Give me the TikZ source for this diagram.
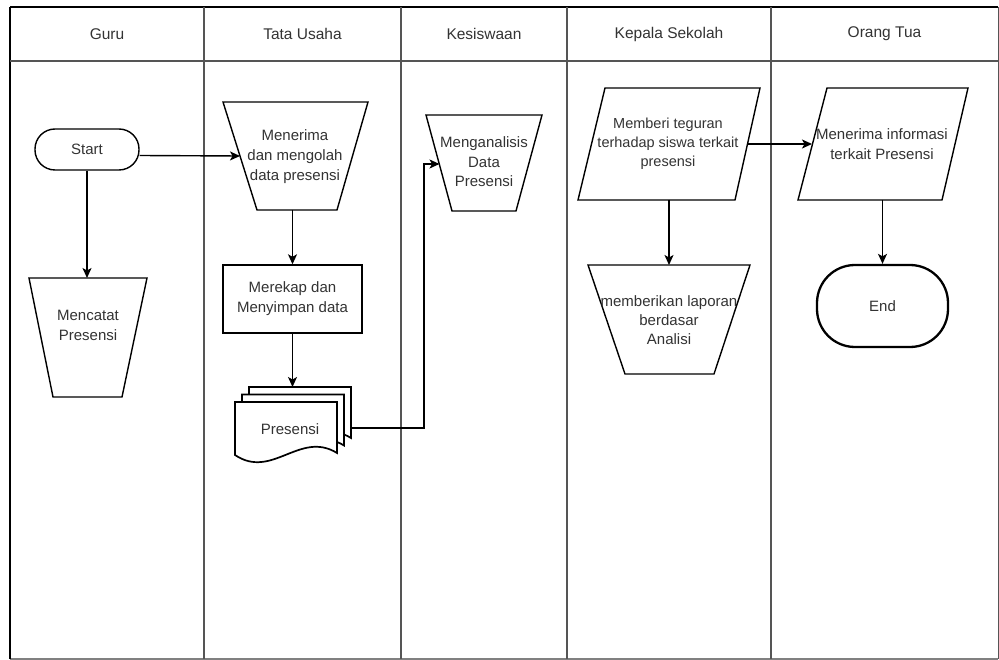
\documentclass[tikz,border=0pt]{standalone}
\usepackage{fontspec}
\setmainfont{Liberation Sans}
\usetikzlibrary{arrows.meta,calc}
\definecolor{txt}{HTML}{333333}
\definecolor{lane}{HTML}{555555}
\begin{document}
\begin{tikzpicture}[x=1pt,y=-1pt,
  shp/.style={draw=black, line width=1.4pt, fill=white},
  lbl/.style={text=txt, font=\fontsize{15}{20}\selectfont, align=center, inner sep=0pt},
  hdr/.style={text=txt, font=\fontsize{15.5}{18}\selectfont, inner sep=0pt},
  conn/.style={draw=black, line width=1.4pt, -{Stealth[length=10pt,width=9pt,inset=2.5pt]}},
  docpg/.style={draw=black, line width=1.7pt, fill=white},
]
\useasboundingbox (0,0) rectangle (999,660);
\fill[white] (0,0) rectangle (999,660);

% frame and lanes
\draw[black, line width=1.5pt] (10,7) -- (998,7);
\draw[gray, line width=1.2pt] (10,659) -- (998,659);
\draw[black, line width=2pt] (10,7) -- (10,659);
\draw[lane, line width=1pt] (998,7) -- (998,659);
\draw[lane, line width=1.5pt] (10,61) -- (998,61);
\foreach \xx in {204,401,567,771} \draw[lane, line width=1.5pt] (\xx,7) -- (\xx,659);

% headers
\node[hdr] (h1) at (107,34) {Guru};
\node[hdr] (h2) at (302.5,34) {Tata Usaha};
\node[hdr] (h3) at (484,34) {Kesiswaan};
\node[hdr] (h4) at (669,34) {Kepala Sekolah};
\node[hdr] (h5) at (884.5,34) {Orang Tua};

% Guru lane
\node[lbl, draw=black, line width=1.4pt, rounded corners=20pt, minimum width=104pt, minimum height=41pt] (start) at (87,149.5) {Start};
\draw[shp] (29,278) -- (147,278) -- (122,397) -- (53,397) -- cycle;
\node[lbl] (mencatat) at (88,325) {Mencatat\\Presensi};
\coordinate (mencatatT) at (87,278);

% Tata Usaha lane
\draw[shp] (223,102) -- (368,102) -- (337,210) -- (257,210) -- cycle;
\node[lbl] (menerima) at (295,157) {Menerima\\dan mengolah\\data presensi};
\coordinate (menerimaL) at (240,156);
\coordinate (menerimaB) at (292.5,210);

\node[lbl, draw=black, line width=1.4pt, minimum width=139pt, minimum height=68pt] (merekap) at (292.5,299) {Merekap dan\\Menyimpan data};

\foreach \ox/\oy in {249/387, 242/394.5, 235/402}
  \draw[docpg] (\ox,\oy) -- (\ox+102,\oy) -- (\ox+102,\oy+51)
     .. controls (\ox+65,\oy+28) and (\ox+37,\oy+78) .. (\ox,\oy+53) -- cycle;
\node[lbl] (presensi) at (290,429) {Presensi};
\coordinate (docT) at (292.5,387);
\coordinate (docR) at (351,428);

% Kesiswaan lane
\draw[shp] (426,115) -- (542,115) -- (516,211) -- (452,211) -- cycle;
\node[lbl, font=\fontsize{15}{19.5}\selectfont] (analisis) at (484,162) {Menganalisis\\Data\\Presensi};
\coordinate (analisL) at (439.5,164);
\coordinate (bendc) at (424,164);

% Kepala Sekolah lane
\draw[shp] (605,88) -- (760,88) -- (735,200) -- (578,200) -- cycle;
\node[lbl, font=\fontsize{14.5}{19}\selectfont] (memberi) at (668,144) {Memberi teguran\\terhadap siswa terkait\\presensi};
\coordinate (memberiR) at (747.5,144);
\coordinate (memberiB) at (669,200);

\draw[shp] (588,265) -- (750,265) -- (714,374) -- (625,374) -- cycle;
\node[lbl, font=\fontsize{15}{19}\selectfont] (memberikan) at (669,320) {memberikan laporan\\berdasar\\Analisi};
\coordinate (memberikanT) at (669,265);

% Orang Tua lane
\draw[shp] (827,88) -- (968,88) -- (942,200) -- (798,200) -- cycle;
\node[lbl] (info) at (882,144) {Menerima informasi\\terkait Presensi};
\coordinate (infoL) at (812,144);
\coordinate (infoB) at (882.5,200);

\node[lbl, draw=black, line width=2.3pt, rounded corners=38pt, minimum width=131pt, minimum height=82pt] (endnode) at (882.5,306) {End};

% connectors
\draw[conn] (start.south) -- (mencatatT);
\draw[conn] ([yshift=-6pt]start.east) -- (menerimaL);
\draw[conn] (menerimaB) -- (merekap.north);
\draw[conn] (merekap.south) -- (docT);
\draw[conn] (docR) -| (bendc) -- (analisL);
\draw[conn] (memberiB) -- (memberikanT);
\draw[conn] (memberiR) -- (infoL);
\draw[conn] (infoB) -- (endnode.north);
\end{tikzpicture}
\end{document}
